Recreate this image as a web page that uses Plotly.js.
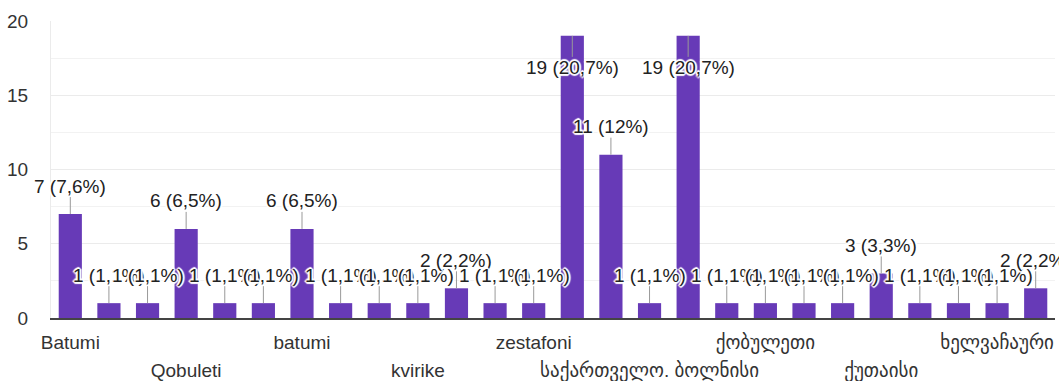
<!DOCTYPE html>
<html>
<head>
<meta charset="utf-8">
<script src="https://cdn.plot.ly/plotly-3.0.1.min.js"></script>
<style>html,body{margin:0;padding:0;background:#fff;}#chart{width:1059px;height:381px;}</style>
</head>
<body>
<div id="chart"></div>
<script>
// Category labels shown on the axis (only every third one is visible in the reference)
const tickLabels = ["Batumi","","","Qobuleti","","","batumi","","","kvirike","","","zestafoni","","",
  "საქართველო. ბოლნისი","","","ქობულეთი","","","ქუთაისი","","","ხელვაჩაური",""];
// Counts per bar
const values = [7,1,1,6,1,1,6,1,1,1,2,1,1,19,11,1,19,1,1,1,1,3,1,1,1,2];
const yTicks = [0,5,10,15,20];

const total = values.reduce((a,b)=>a+b,0);
const xIdx = values.map((_,i)=>i);
const FONT = "Arial, 'Liberation Sans', 'DejaVu Sans', sans-serif";

// split labels into two staggered rows
const labeled = xIdx.filter(i => tickLabels[i] !== "");
const row1 = labeled.filter((_,k)=>k%2===0);
const row2 = labeled.filter((_,k)=>k%2===1);

function pctText(v){
  let p = Math.round(v/total*1000)/10;
  let s = (Math.abs(p-Math.round(p))<1e-9) ? String(Math.round(p)) : p.toFixed(1).replace('.', ',');
  return v + " (" + s + "%)";
}

const ymax = 20;
const annotations = values.map((v,i)=>({
  x: i, y: v, xref:'x', yref:'y',
  text: pctText(v),
  showarrow: true, arrowhead: 0, arrowwidth: 1, arrowcolor: '#999999',
  ax: 0, ay: (v > 0.85*ymax) ? 32 : -28, standoff: 0,
  font: {family: FONT, size: 19, color: '#222222',
         shadow: '1px 1px 1px #fff, -1px -1px 1px #fff, 1px -1px 1px #fff, -1px 1px 1px #fff, 0 2px 1px #fff, 0 -2px 1px #fff, 2px 0 1px #fff, -2px 0 1px #fff'},
  bgcolor: 'rgba(0,0,0,0)', borderpad: 0
}));

const trace = {
  type: 'bar', x: xIdx, y: values,
  marker: {color: '#673ab7'},
  hoverinfo: 'none'
};

const layout = {
  width: 1059, height: 381,
  margin: {l: 51, r: 4, t: 21, b: 63},
  paper_bgcolor: '#ffffff', plot_bgcolor: '#ffffff',
  bargap: 0.4,
  showlegend: false,
  font: {family: FONT, size: 19, color: '#333333'},
  xaxis: {
    range: [-0.5, values.length-0.5], fixedrange: true,
    tickmode: 'array', tickvals: row1, ticktext: row1.map(i=>tickLabels[i]),
    ticks: '', showgrid: false, zeroline: false,
    showline: true, linecolor: '#444444', linewidth: 2,
    ticklabelstandoff: 6,
    tickfont: {family: FONT, size: 19, color: '#333333'}
  },
  xaxis2: {
    overlaying: 'x', matches: 'x', anchor: 'y', side: 'bottom',
    range: [-0.5, values.length-0.5],
    tickmode: 'array', tickvals: row2, ticktext: row2.map(i=>tickLabels[i]),
    ticks: '', showgrid: false, zeroline: false, showline: false,
    ticklabelstandoff: 39,
    tickfont: {family: FONT, size: 19, color: '#333333'}
  },
  yaxis: {
    range: [0, ymax], fixedrange: true,
    tickmode: 'array', tickvals: yTicks,
    showgrid: true, gridcolor: '#ebebeb', gridwidth: 1,
    minor: {dtick: 2.5, showgrid: true, gridcolor: '#f2f2f2', gridwidth: 1},
    zeroline: false, showline: true, linecolor: '#ebebeb', linewidth: 1,
    ticks: '', ticklabelstandoff: 18,
    tickfont: {family: FONT, size: 19, color: '#333333'}
  },
  annotations: annotations
};

Plotly.newPlot('chart', [trace, {type:'bar', x:[], y:[], xaxis:'x2', yaxis:'y', hoverinfo:'none'}], layout, {displayModeBar: false, staticPlot: true});
</script>
</body>
</html>
